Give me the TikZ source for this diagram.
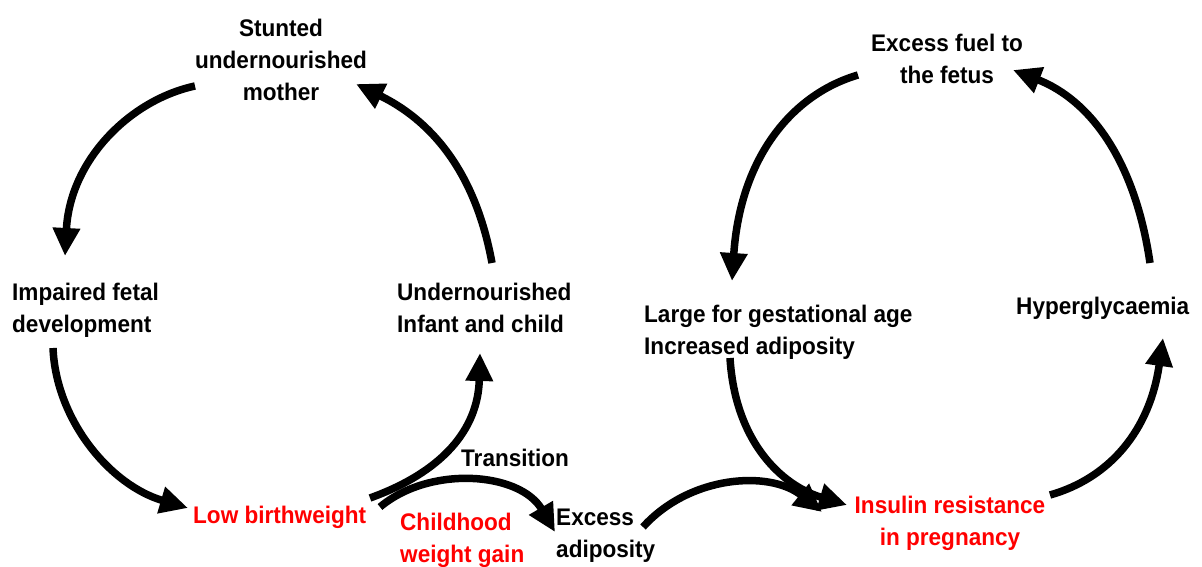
\documentclass[tikz,border=0pt]{standalone}
\usepackage{fontspec}
\setmainfont{Liberation Sans}[FakeStretch=0.94]
\usetikzlibrary{arrows.meta,calc}
\begin{document}
\begin{tikzpicture}[x=1pt,y=-1pt,
  lbl/.style={inner sep=0pt,font=\fontsize{24}{32}\selectfont\bfseries,text=black},
  hot/.style={lbl,text=red},
  flow/.style={line width=7.5pt,-{Triangle[length=28pt,width=26pt]}}]
\useasboundingbox (0,0) rectangle (1202,567);

% left cycle
\node[lbl,align=center] (stunted) at (281,60) {Stunted\\undernourished\\mother};
\node[lbl,align=left,anchor=west] (impaired) at (12,310) {Impaired fetal\\development};
\node[lbl,align=left,anchor=west] (undernour) at (397,308) {Undernourished\\Infant and child};
\node[hot,anchor=west] (lbw) at (193,517) {Low birthweight};

% transition
\node[lbl,anchor=west] (transition) at (461,458) {Transition};
\node[hot,align=left,anchor=west] (childhood) at (400,540) {Childhood\\weight gain};
\node[lbl,align=left,anchor=west] (adip) at (556,536) {Excess\\adiposity};

% right cycle
\node[lbl,align=center] (fuel) at (947,59) {Excess fuel to\\the fetus};
\node[lbl,align=left,anchor=west] (large) at (644,332) {Large for gestational age\\Increased adiposity};
\node[lbl,anchor=west] (hyper) at (1016,308) {Hyperglycaemia};
\node[hot,align=center] (insulin) at (950,523) {Insulin resistance\\in pregnancy};

% connectors of the undernutrition cycle
\draw[flow] ($(stunted.center)+(-86,26)$) .. controls (130,100) and (70,160) .. ($(impaired.west)+(53,-54)$);
\draw[flow] ($(impaired.west)+(41,38)$) .. controls (56,420) and (110,485) .. ($(lbw.west)+(-5,-9)$);
\draw[flow] ($(lbw.west)+(177,-19)$) .. controls (442,472) and (478,430) .. ($(undernour.west)+(83,45)$);
\draw[flow] ($(undernour.west)+(95,-45)$) .. controls (475,170) and (430,120) .. ($(stunted.center)+(75,24)$);

% transition connectors
\draw[flow] ($(lbw.west)+(187,-10)$) .. controls (430,465) and (520,472) .. ($(adip.west)+(-1,-4)$);
\draw[flow] ($(adip.west)+(87,-9)$) .. controls (690,475) and (770,470) .. ($(insulin.center)+(-128,-11)$);

% connectors of the overnutrition cycle
\draw[flow] ($(fuel.center)+(-89,16)$) .. controls (790,95) and (740,160) .. ($(large.west)+(88,-51)$);
\draw[flow] ($(large.west)+(86,26)$) .. controls (735,440) and (780,485) .. ($(insulin.center)+(-103,-18)$);
\draw[flow] ($(insulin.center)+(100,-28)$) .. controls (1110,478) and (1150,430) .. ($(hyper.west)+(147,30)$);
\draw[flow] ($(hyper.west)+(134,-45)$) .. controls (1135,160) and (1090,100) .. ($(fuel.center)+(66,11)$);
\end{tikzpicture}
\end{document}
